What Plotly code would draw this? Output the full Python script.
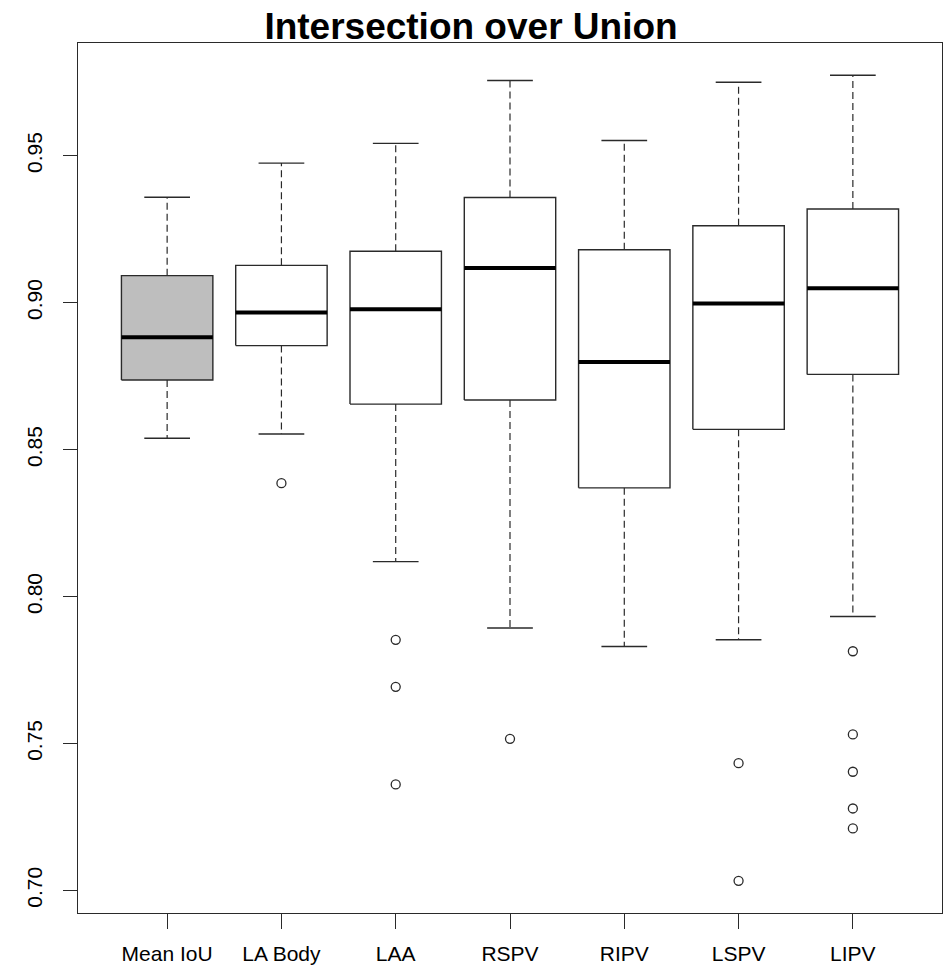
import plotly.graph_objects as go

categories = ["Mean IoU", "LA Body", "LAA", "RSPV", "RIPV", "LSPV", "LIPV"]
q1 = [0.8737, 0.8854, 0.8655, 0.8669, 0.8370, 0.8569, 0.8756]
median = [0.8882, 0.8967, 0.8978, 0.9118, 0.8798, 0.8997, 0.9049]
q3 = [0.9092, 0.9127, 0.9175, 0.9358, 0.9180, 0.9262, 0.9319]
lower_whisker = [0.8539, 0.8553, 0.8119, 0.7893, 0.7830, 0.7853, 0.7932]
upper_whisker = [0.9359, 0.9475, 0.9542, 0.9756, 0.9552, 0.9750, 0.9774]
outliers = [
    [],
    [0.8386],
    [0.7853, 0.7693, 0.7361],
    [0.7516],
    [],
    [0.7433, 0.7033],
    [0.7814, 0.7531, 0.7404, 0.7279, 0.7211],
]
y_ticks = [0.70, 0.75, 0.80, 0.85, 0.90, 0.95]

fill_colors = ["#BEBEBE"] + ["white"] * 6
LINE = "#2a2a2a"
BOXW = 0.8
STAPLE = 0.4

fig = go.Figure()
positions = list(range(1, len(categories) + 1))

for i, p in enumerate(positions):
    hb = BOXW / 2
    hs = STAPLE / 2
    # dashed whiskers
    fig.add_trace(go.Scatter(
        x=[p, p, None, p, p],
        y=[q3[i], upper_whisker[i], None, q1[i], lower_whisker[i]],
        mode="lines", line=dict(color=LINE, width=1.2, dash="7px,4px"),
        hoverinfo="skip", showlegend=False))
    # staples
    fig.add_trace(go.Scatter(
        x=[p - hs, p + hs, None, p - hs, p + hs],
        y=[upper_whisker[i], upper_whisker[i], None, lower_whisker[i], lower_whisker[i]],
        mode="lines", line=dict(color=LINE, width=1.4),
        hoverinfo="skip", showlegend=False))
    # box
    fig.add_trace(go.Scatter(
        x=[p - hb, p + hb, p + hb, p - hb, p - hb],
        y=[q1[i], q1[i], q3[i], q3[i], q1[i]],
        mode="lines", fill="toself", fillcolor=fill_colors[i],
        line=dict(color=LINE, width=1.4),
        name=categories[i], showlegend=False))
    # median
    fig.add_trace(go.Scatter(
        x=[p - hb, p + hb], y=[median[i], median[i]],
        mode="lines", line=dict(color="black", width=4),
        hoverinfo="skip", showlegend=False))
    # outliers
    if outliers[i]:
        fig.add_trace(go.Scatter(
            x=[p] * len(outliers[i]), y=outliers[i], mode="markers",
            marker=dict(symbol="circle-open", size=9, color=LINE,
                        line=dict(width=1.3, color=LINE)),
            showlegend=False))

all_vals = lower_whisker + upper_whisker + [v for o in outliers for v in o]
lo, hi = min(all_vals), max(all_vals)
pad = (hi - lo) * 0.04
n = len(categories)
xpad = n * 0.04

font_family = "Liberation Sans, Arial, sans-serif"

fig.update_layout(
    width=950, height=966,
    margin=dict(l=78, r=8, t=43, b=53, autoexpand=False),
    plot_bgcolor="white", paper_bgcolor="white",
    font=dict(family=font_family, size=21, color="black"),
    title=dict(text="<b>Intersection over Union</b>", x=471 / 950, xanchor="center",
               y=1 - 26 / 966, yanchor="middle",
               font=dict(family=font_family, size=37, color="black")),
    xaxis=dict(range=[0.5 - xpad, n + 0.5 + xpad], tickvals=positions, ticktext=categories,
               automargin=False,
               showgrid=False, zeroline=False, showline=True, linecolor=LINE, linewidth=1.4,
               mirror=True, ticks="outside", ticklen=15, tickcolor=LINE, tickwidth=1.4,
               ticklabelstandoff=7,
               tickfont=dict(size=21)),
    yaxis=dict(range=[lo - pad, hi + pad], tickvals=y_ticks,
               ticktext=[f"{v:.2f}" for v in y_ticks], tickangle=-90,
               automargin=False,
               showgrid=False, zeroline=False, showline=True, linecolor=LINE, linewidth=1.4,
               mirror=True, ticks="outside", ticklen=14, tickcolor=LINE, tickwidth=1.4,
               ticklabelstandoff=12,
               tickfont=dict(size=21)),
)

fig.write_html("out.html")
